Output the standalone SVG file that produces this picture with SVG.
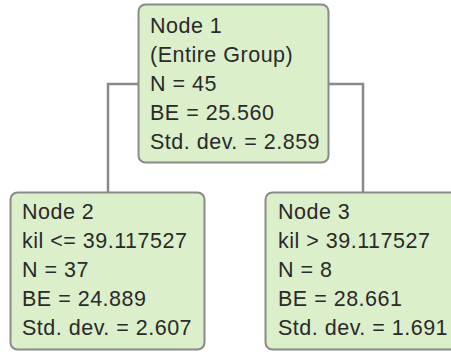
<svg xmlns="http://www.w3.org/2000/svg" width="451" height="355" viewBox="0 0 451 355">
  <style>
    .box { fill: #dcefcb; stroke: #8a8a8a; stroke-width: 2; }
    .lbl { font-family: "Liberation Sans", Arial, sans-serif; font-size: 21.5px; letter-spacing: 0.5px; fill: #2a2a2a; }
    .edge { fill: none; stroke: #8a8a8a; stroke-width: 2.5; }
  </style>
  <rect width="451" height="355" fill="#ffffff"/>
  <g id="connectors">
    <path class="edge" d="M138 84 H108 V192"/>
    <path class="edge" d="M329 84 H363 V192"/>
  </g>
  <g id="node1">
    <rect class="box" x="138.5" y="4.5" width="190" height="158" rx="7"/>
    <text class="lbl" x="150" y="32.5">Node 1</text>
    <text class="lbl" x="150" y="61.5">(Entire Group)</text>
    <text class="lbl" x="150" y="90.5">N = 45</text>
    <text class="lbl" x="150" y="119.5">BE = 25.560</text>
    <text class="lbl" x="150" y="148.5">Std. dev. = 2.859</text>
  </g>
  <g id="node2">
    <rect class="box" x="10.5" y="192.5" width="194" height="157" rx="7"/>
    <text class="lbl" x="22" y="219">Node 2</text>
    <text class="lbl" x="22" y="248">kil &lt;= 39.117527</text>
    <text class="lbl" x="22" y="277">N = 37</text>
    <text class="lbl" x="22" y="306">BE = 24.889</text>
    <text class="lbl" x="22" y="335">Std. dev. = 2.607</text>
  </g>
  <g id="node3">
    <rect class="box" x="265.5" y="192.5" width="194" height="157" rx="7"/>
    <text class="lbl" x="278" y="219">Node 3</text>
    <text class="lbl" x="278" y="248">kil &gt; 39.117527</text>
    <text class="lbl" x="278" y="277">N = 8</text>
    <text class="lbl" x="278" y="306">BE = 28.661</text>
    <text class="lbl" x="278" y="335">Std. dev. = 1.691</text>
  </g>
</svg>
